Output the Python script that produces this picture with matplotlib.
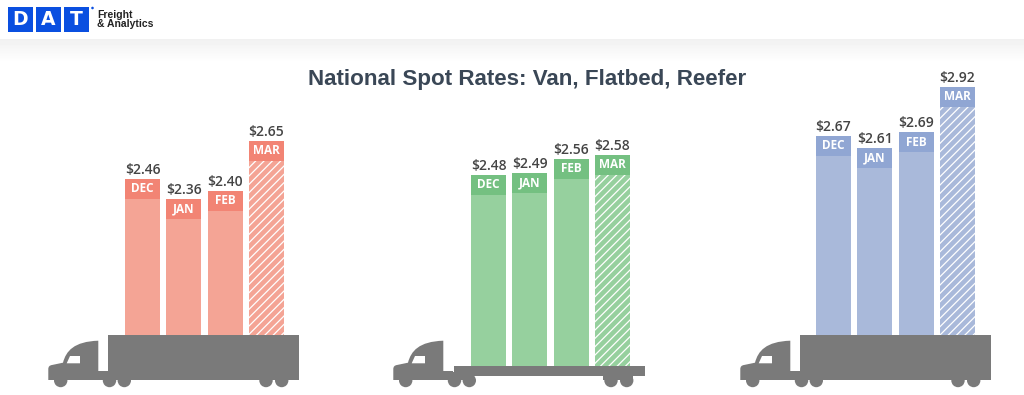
import numpy as np
import matplotlib
matplotlib.use("Agg")
import matplotlib.pyplot as plt
from matplotlib.path import Path
from matplotlib.patches import PathPatch, Rectangle, Circle

months = ["DEC", "JAN", "FEB", "MAR"]
van = [2.46, 2.36, 2.40, 2.65]
flatbed = [2.48, 2.49, 2.56, 2.58]
reefer = [2.67, 2.61, 2.69, 2.92]
title = "National Spot Rates: Van, Flatbed, Reefer"

W, H = 1024, 395
plt.rcParams["hatch.linewidth"] = 0.9
fig = plt.figure(figsize=(W / 100, H / 100), dpi=100, facecolor="white")

# page furniture, in pixel coordinates
bg = fig.add_axes([0, 0, 1, 1], zorder=0)
bg.set_xlim(0, W); bg.set_ylim(H, 0); bg.axis("off")
grad = np.linspace(0.945, 1, 24).reshape(-1, 1)
bg.imshow(grad, extent=(0, W, 63, 39), cmap="gray", vmin=0, vmax=1, aspect="auto", zorder=1)
bg.set_xlim(0, W); bg.set_ylim(H, 0)

BLUE = "#0a4fe0"
for x0, letter in zip([8, 36, 64], "DAT"):
    bg.add_patch(Rectangle((x0, 7), 25, 24.5, fc=BLUE, ec="none", zorder=2))
    bg.text(x0 + 12.5, 19.5, letter, color="white", ha="center", va="center",
            fontsize=13.5, fontweight="bold", family="DejaVu Sans", zorder=3)
bg.add_patch(Circle((92.5, 8), 1.3, fc=BLUE, ec="none", zorder=3))
bg.text(97, 14.5, "Freight", fontsize=7.5, fontweight="bold", family="Liberation Sans",
        color="#222222", va="center", ha="left")
bg.text(97, 24, "& Analytics", fontsize=7.5, fontweight="bold", family="Liberation Sans",
        color="#222222", va="center", ha="left")
bg.text(527, 79.5, title, fontsize=16.15, fontweight="bold", family="Liberation Sans",
        color="#3a4756", ha="center", va="center")


def panel(values, left, base_px, px_per, ref_value, ref_px, bar_c, band_c):
    step = 41.3
    bar_w = 35
    x0 = left - (step - bar_w) / 2
    ax = fig.add_axes([x0 / W, 0, 4 * step / W, 1], zorder=1)
    ax.patch.set_alpha(0)
    ax.axis("off")
    ax.set_xlim(-0.5, 3.5)
    base = ref_value - (base_px - ref_px) / px_per
    ax.set_ylim(base - (H - base_px) / px_per, base + base_px / px_per)
    band_h = 20 / px_per
    w = bar_w / step
    for i, (m, v) in enumerate(zip(months, values)):
        if i == 3:
            ax.bar(i, v - base, w, bottom=base, facecolor=bar_c, edgecolor="white",
                   hatch="////", linewidth=0, zorder=2)
        else:
            ax.bar(i, v - base, w, bottom=base, color=bar_c, linewidth=0, zorder=2)
        ax.bar(i, band_h, w, bottom=v - band_h, color=band_c, linewidth=0, zorder=3)
        ax.text(i, v - band_h / 2, m, color="white", ha="center", va="center",
                fontsize=8.5, fontweight="bold", family="Open Sans", zorder=4)
        ax.annotate(f"${v:.2f}", (i, v), xytext=(0, 1.5), textcoords="offset points",
                    ha="center", va="bottom", fontsize=10, fontweight="semibold",
                    family="Open Sans", color="#444444", zorder=4)


panel(van, 125, 335, 200, 2.46, 179, "#f4a495", "#f28474")
panel(flatbed, 471, 366, 200, 2.48, 175, "#96d09e", "#74c081")
panel(reefer, 816, 335, 196, 2.67, 136, "#a9b9da", "#90a6d3")

# truck silhouettes, in pixel coordinates
top = fig.add_axes([0, 0, 1, 1], zorder=2)
top.set_xlim(0, W); top.set_ylim(H, 0); top.axis("off"); top.patch.set_alpha(0)
GREY = "#7a7a7a"


def truck(dx, flat=False):
    M, L, C3, C4, Z = Path.MOVETO, Path.LINETO, Path.CURVE3, Path.CURVE4, Path.CLOSEPOLY
    pts = [(48.3, 380), (48.3, 369), (48.3, 365.5), (52, 365), (63, 362.7),
           (66, 351), (74, 341.5), (98.3, 340.7), (98.3, 371), (108, 371),
           (108, 380), (48.3, 380)]
    codes = [M, L, C3, C3, L, C4, C4, C4, L, L, L, Z]
    top.add_patch(PathPatch(Path([(x + dx, y) for x, y in pts], codes), fc=GREY, ec="none", zorder=5))
    win = [(66.7, 363.3), (70, 356), (80, 356), (80, 363.3), (66.7, 363.3)]
    top.add_patch(PathPatch(Path([(x + dx, y) for x, y in win], [M, L, L, L, Z]),
                            fc="white", ec="none", zorder=6))
    if flat:
        top.add_patch(Rectangle((109 + dx, 365.7), 191, 10.5, fc=GREY, ec="none", zorder=5))
        top.add_patch(Rectangle((108 + dx, 372), 20, 8, fc=GREY, ec="none", zorder=5))
        top.add_patch(Rectangle((258 + dx, 372), 30, 8, fc=GREY, ec="none", zorder=5))
    else:
        top.add_patch(Rectangle((108 + dx, 335), 191, 45, fc=GREY, ec="none", zorder=5))
    for wx in [60.7, 109.5, 124.3, 266, 281.7]:
        top.add_patch(Circle((wx + dx, 380.5), 6.7, fc=GREY, ec="none", zorder=5))


truck(0)
truck(345, flat=True)
truck(692)

fig.savefig("out.png", dpi=100, facecolor="white")
